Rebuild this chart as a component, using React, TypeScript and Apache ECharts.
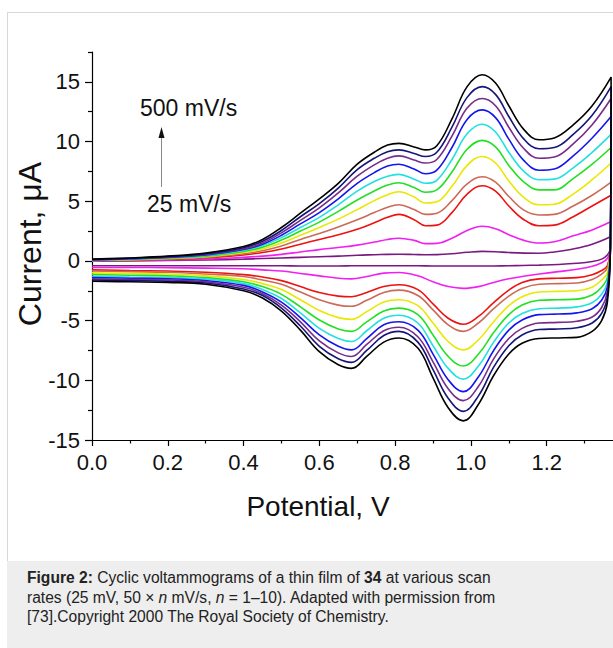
import React, { useEffect, useRef } from "react";
import * as echarts from "echarts";

// Potentials (V) of the forward (anodic) and reverse (cathodic) scans
const E_FWD = [0, 0.1, 0.2, 0.3, 0.4, 0.45, 0.5, 0.55, 0.6, 0.65, 0.7, 0.745, 0.78, 0.81, 0.85, 0.88, 0.91, 0.95, 0.99, 1.03, 1.065, 1.1, 1.14, 1.18, 1.22, 1.27, 1.32, 1.37];
const E_REV = [1.368, 1.36, 1.345, 1.32, 1.28, 1.23, 1.18, 1.135, 1.1, 1.06, 1.02, 0.98, 0.94, 0.9, 0.86, 0.81, 0.77, 0.725, 0.685, 0.65, 0.6, 0.55, 0.5, 0.45, 0.4, 0.3, 0.2, 0.1, 0];

// Scan rates (mV/s)
const RATES = [25, 50, 100, 150, 200, 250, 300, 350, 400, 450, 500];

// Anodic branches (µA)
const up25 = [-0.02, 0, 0.03, 0.08, 0.15, 0.2, 0.25, 0.3, 0.35, 0.4, 0.48, 0.52, 0.55, 0.56, 0.54, 0.52, 0.53, 0.6, 0.72, 0.8, 0.77, 0.7, 0.65, 0.64, 0.75, 1.0, 1.4, 2.05];
const up50 = [0, 0.03, 0.08, 0.15, 0.3, 0.4, 0.55, 0.75, 0.95, 1.12, 1.32, 1.58, 1.8, 1.9, 1.72, 1.45, 1.47, 1.9, 2.55, 2.9, 2.7, 2.2, 1.72, 1.5, 1.6, 2.1, 2.6, 3.3];
const up100 = [0.02, 0.06, 0.14, 0.25, 0.5, 0.7, 1.0, 1.4, 1.8, 2.2, 2.65, 3.2, 3.65, 3.9, 3.45, 2.95, 3.0, 4.05, 5.6, 6.3, 5.85, 4.6, 3.45, 2.95, 3.0, 3.7, 4.6, 5.5];
const up150 = [0.03, 0.08, 0.17, 0.3, 0.6, 0.85, 1.25, 1.8, 2.3, 2.85, 3.45, 4.05, 4.5, 4.7, 4.3, 3.9, 4.0, 5.05, 6.45, 7.05, 6.6, 5.4, 4.25, 3.85, 3.9, 4.6, 5.5, 6.6];
const up200 = [0.04, 0.1, 0.2, 0.35, 0.7, 1.0, 1.5, 2.15, 2.8, 3.5, 4.3, 5.05, 5.55, 5.8, 5.35, 4.85, 4.95, 6.25, 8.0, 8.75, 8.2, 6.7, 5.3, 4.7, 4.75, 5.6, 6.8, 8.2];
const up250 = [0.05, 0.13, 0.24, 0.4, 0.8, 1.15, 1.75, 2.5, 3.25, 4.15, 5.1, 5.85, 6.35, 6.55, 6.15, 5.75, 5.95, 7.45, 9.35, 10.1, 9.55, 8.0, 6.6, 5.95, 5.95, 6.9, 8.1, 9.5];
const up300 = [0.06, 0.15, 0.27, 0.45, 0.88, 1.3, 1.95, 2.8, 3.65, 4.7, 5.85, 6.65, 7.1, 7.25, 6.85, 6.5, 6.75, 8.5, 10.65, 11.45, 10.8, 9.1, 7.5, 6.8, 6.85, 7.8, 9.1, 10.6];
const up350 = [0.08, 0.18, 0.3, 0.5, 0.95, 1.4, 2.15, 3.1, 4.05, 5.2, 6.5, 7.4, 7.95, 8.1, 7.7, 7.3, 7.6, 9.5, 11.85, 12.65, 12.0, 10.2, 8.4, 7.6, 7.7, 8.8, 10.3, 12.1];
const up400 = [0.1, 0.2, 0.34, 0.55, 1.0, 1.5, 2.35, 3.4, 4.45, 5.7, 7.1, 8.05, 8.6, 8.8, 8.45, 8.2, 8.5, 10.45, 12.8, 13.6, 13.0, 11.2, 9.4, 8.6, 8.7, 9.8, 11.4, 13.6];
const up450 = [0.12, 0.22, 0.37, 0.6, 1.1, 1.65, 2.55, 3.7, 4.8, 6.1, 7.65, 8.6, 9.15, 9.3, 9.0, 8.75, 9.1, 11.2, 13.7, 14.6, 13.95, 12.1, 10.2, 9.4, 9.5, 10.6, 12.2, 14.6];
const up500 = [0.15, 0.25, 0.4, 0.65, 1.2, 1.8, 2.8, 4.0, 5.2, 6.5, 8.1, 9.1, 9.7, 9.85, 9.55, 9.3, 9.65, 11.9, 14.6, 15.6, 14.9, 13.0, 11.0, 10.15, 10.3, 11.4, 13.0, 15.4];

// Cathodic branches (µA)
const lo25 = [1.0, 0.5, 0.15, -0.05, -0.2, -0.3, -0.35, -0.38, -0.4, -0.42, -0.43, -0.43, -0.43, -0.42, -0.41, -0.4, -0.4, -0.4, -0.41, -0.42, -0.42, -0.42, -0.41, -0.4, -0.4, -0.4, -0.4, -0.4, -0.4];
const lo50 = [1.0, 0.2, -0.15, -0.45, -0.7, -0.9, -1.1, -1.3, -1.5, -1.8, -2.15, -2.3, -2.15, -1.75, -1.25, -0.97, -1.02, -1.3, -1.5, -1.45, -1.25, -1.05, -0.85, -0.75, -0.65, -0.6, -0.57, -0.55, -0.55];
const lo100 = [1.0, -0.4, -0.8, -1.15, -1.4, -1.45, -1.5, -1.8, -2.45, -3.5, -4.65, -5.3, -4.8, -3.6, -2.4, -2.0, -2.15, -2.65, -3.0, -2.95, -2.65, -2.15, -1.65, -1.35, -1.15, -0.95, -0.85, -0.8, -0.75];
const lo150 = [1.0, -0.6, -1.1, -1.55, -1.85, -1.9, -1.95, -2.3, -2.95, -4.0, -5.2, -5.9, -5.35, -4.1, -2.9, -2.45, -2.65, -3.3, -3.8, -3.7, -3.25, -2.6, -1.95, -1.6, -1.3, -1.1, -0.95, -0.9, -0.85];
const lo200 = [1.0, -1.0, -1.6, -2.2, -2.5, -2.55, -2.6, -3.0, -3.75, -5.1, -6.6, -7.45, -6.75, -5.2, -3.75, -3.25, -3.45, -4.25, -4.9, -4.75, -4.15, -3.25, -2.4, -1.9, -1.55, -1.25, -1.1, -1.05, -1.0];
const lo250 = [1.0, -1.4, -2.2, -2.85, -3.2, -3.25, -3.3, -3.7, -4.5, -6.0, -7.8, -8.8, -8.0, -6.2, -4.5, -3.95, -4.2, -5.1, -5.9, -5.7, -4.95, -3.85, -2.8, -2.15, -1.75, -1.4, -1.25, -1.2, -1.15];
const lo300 = [1.0, -1.8, -2.8, -3.5, -3.85, -3.95, -4.0, -4.4, -5.2, -6.8, -8.8, -9.9, -9.0, -7.1, -5.2, -4.55, -4.8, -5.85, -6.75, -6.5, -5.65, -4.35, -3.15, -2.4, -1.9, -1.5, -1.4, -1.35, -1.3];
const lo350 = [1.0, -2.2, -3.3, -4.0, -4.35, -4.45, -4.5, -4.95, -5.8, -7.5, -9.7, -10.95, -9.95, -7.8, -5.8, -5.1, -5.35, -6.5, -7.45, -7.15, -6.2, -4.75, -3.45, -2.6, -2.05, -1.65, -1.5, -1.45, -1.4];
const lo400 = [1.0, -2.6, -3.9, -4.7, -5.05, -5.15, -5.2, -5.65, -6.5, -8.2, -10.5, -11.7, -10.7, -8.45, -6.35, -5.55, -5.85, -7.0, -8.0, -7.7, -6.7, -5.1, -3.7, -2.75, -2.2, -1.75, -1.6, -1.55, -1.5];
const lo450 = [1.0, -3.0, -4.4, -5.2, -5.6, -5.7, -5.75, -6.2, -7.1, -8.9, -11.3, -12.6, -11.5, -9.1, -6.8, -5.9, -6.25, -7.5, -8.5, -8.2, -7.15, -5.45, -3.95, -2.9, -2.35, -1.85, -1.7, -1.65, -1.6];
const lo500 = [1.0, -3.5, -5.0, -5.9, -6.4, -6.45, -6.5, -6.9, -7.8, -9.6, -12.0, -13.4, -12.3, -9.8, -7.3, -6.45, -6.8, -8.0, -9.0, -8.7, -7.6, -5.8, -4.2, -3.1, -2.5, -1.95, -1.8, -1.75, -1.7];

const UP = [up25, up50, up100, up150, up200, up250, up300, up350, up400, up450, up500];
const LO = [lo25, lo50, lo100, lo150, lo200, lo250, lo300, lo350, lo400, lo450, lo500];

// Axis ticks
const X_MAJOR = [0, 0.2, 0.4, 0.6, 0.8, 1.0, 1.2];
const X_MINOR = [0.1, 0.3, 0.5, 0.7, 0.9, 1.1, 1.3];
const Y_MAJOR = [-15, -10, -5, 0, 5, 10, 15];
const Y_MINOR = [-12.5, -7.5, -2.5, 2.5, 7.5, 12.5, 17.5];

const COLORS = ["#7a1a80", "#f020f0", "#ee1111", "#cc6a58", "#e8e800", "#22e022", "#22e0e0", "#1515ee", "#7a2a88", "#15157a", "#000000"];

const FONT = "'Liberation Sans', Arial, Helvetica, sans-serif";
const X_MAX = 1.375;

export default function App() {
  const ref = useRef<HTMLDivElement>(null);

  useEffect(() => {
    if (!ref.current) return;
    const chart = echarts.init(ref.current, undefined, { renderer: "svg" });

    const series = RATES.map((r, k) => ({
      name: r + " mV/s",
      type: "line",
      xAxisIndex: 0,
      yAxisIndex: 0,
      showSymbol: false,
      smooth: 0.4,
      lineStyle: { color: COLORS[k], width: 1.6 },
      itemStyle: { color: COLORS[k] },
      data: E_FWD.map((e, i) => [e, UP[k][i]]).concat(E_REV.map((e, i) => [e, LO[k][i]])),
    }));

    const axisLineStyle = { color: "#000", width: 1.2 };

    chart.setOption({
      animation: false,
      backgroundColor: "#ffffff",
      grid: { left: 92, right: 0, top: 52, bottom: 208, containLabel: false },
      xAxis: [
        {
          type: "value",
          min: 0,
          max: X_MAX,
          position: "bottom",
          axisLine: { show: true, onZero: false, lineStyle: axisLineStyle },
          axisTick: { show: true, customValues: X_MAJOR, length: 6, lineStyle: axisLineStyle },
          axisLabel: {
            customValues: X_MAJOR,
            formatter: (v: number) => v.toFixed(1),
            fontSize: 22,
            fontFamily: FONT,
            color: "#111",
            margin: 11,
          },
          splitLine: { show: false },
        },
        {
          type: "value",
          min: 0,
          max: X_MAX,
          position: "bottom",
          axisLine: { show: false, onZero: false },
          axisTick: { show: true, customValues: X_MINOR, length: 3.5, lineStyle: axisLineStyle },
          axisLabel: { show: false },
          splitLine: { show: false },
        },
      ],
      yAxis: [
        {
          type: "value",
          min: -15,
          max: 17.5,
          position: "left",
          axisLine: { show: true, onZero: false, lineStyle: axisLineStyle },
          axisTick: { show: true, customValues: Y_MAJOR, length: 7, lineStyle: axisLineStyle },
          axisLabel: {
            customValues: Y_MAJOR,
            fontSize: 22,
            fontFamily: FONT,
            color: "#111",
            margin: 12,
          },
          splitLine: { show: false },
        },
        {
          type: "value",
          min: -15,
          max: 17.5,
          position: "left",
          axisLine: { show: false, onZero: false },
          axisTick: { show: true, customValues: Y_MINOR, length: 4, lineStyle: axisLineStyle },
          axisLabel: { show: false },
          splitLine: { show: false },
        },
      ],
      series,
      graphic: [
        { type: "line", shape: { x1: 7.5, y1: 12, x2: 7.5, y2: 561 }, style: { stroke: "#d8d8d8", lineWidth: 1 }, silent: true },
        { type: "line", shape: { x1: 7, y1: 12.5, x2: 613, y2: 12.5 }, style: { stroke: "#d8d8d8", lineWidth: 1 }, silent: true },
        { type: "rect", shape: { x: 7, y: 561, width: 606, height: 87 }, style: { fill: "#eeeeee" }, silent: true },
        {
          type: "text",
          x: 27,
          y: 568,
          style: {
            text: "{b|Figure 2:} Cyclic voltammograms of a thin film of {b|34} at various scan\nrates (25 mV, 50 × {i|n} mV/s, {i|n} = 1–10). Adapted with permission from\n[73].Copyright 2000 The Royal Society of Chemistry.",
            font: "15.6px " + FONT,
            fill: "#222",
            lineHeight: 19.5,
            verticalAlign: "top",
            rich: {
              b: { fontWeight: "bold", fontSize: 15.6, fontFamily: FONT, fill: "#222", lineHeight: 19.5 },
              i: { fontStyle: "italic", fontSize: 15.6, fontFamily: FONT, fill: "#222", lineHeight: 19.5 },
            },
          },
        },
        {
          type: "text",
          x: 30,
          y: 244,
          rotation: Math.PI / 2,
          style: { text: "Current, μA", font: "32px " + FONT, fill: "#111", align: "center", verticalAlign: "middle" },
        },
        {
          type: "text",
          x: 318,
          y: 506,
          style: { text: "Potential, V", font: "28px " + FONT, fill: "#111", align: "center", verticalAlign: "middle" },
        },
        {
          type: "text",
          x: 140,
          y: 108,
          style: { text: "500 mV/s", font: "23px " + FONT, fill: "#111", align: "left", verticalAlign: "middle" },
        },
        {
          type: "text",
          x: 147,
          y: 204,
          style: { text: "25 mV/s", font: "23px " + FONT, fill: "#111", align: "left", verticalAlign: "middle" },
        },
        { type: "line", shape: { x1: 161.5, y1: 187, x2: 161.5, y2: 136 }, style: { stroke: "#888", lineWidth: 1 } },
        { type: "polygon", shape: { points: [[161.5, 127], [158.5, 138], [164.5, 138]] }, style: { fill: "#111" } },
      ],
    });

    return () => chart.dispose();
  }, []);

  return (
    <div style={{ position: "fixed", left: 0, top: 0, width: 613, height: 648, overflow: "hidden", background: "#fff" }}>
      <div ref={ref} style={{ width: 613, height: 648 }} />
    </div>
  );
}
